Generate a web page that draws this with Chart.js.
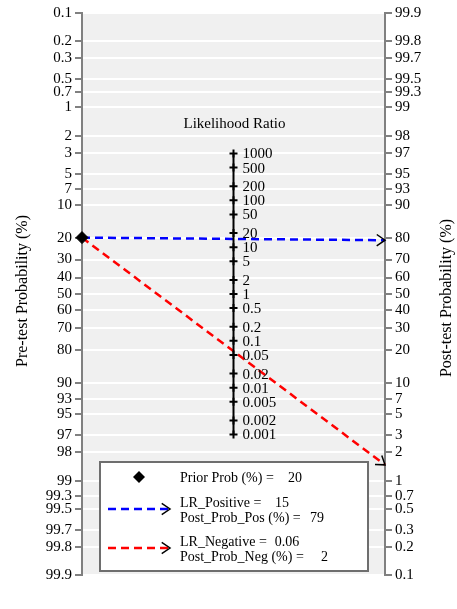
<!DOCTYPE html>
<html lang="en">
<head>
    <meta charset="UTF-8">
    <title>Fagan Nomogram</title>
    <style>
        body {
            margin: 0;
            background: #fff;
        }
        #wrap {
            width: 457px;
            height: 609px;
        }
    </style>
</head>
<body>
    <div id="wrap">
        <canvas id="chart" width="457" height="609"></canvas>
    </div>

    <script src="https://cdn.jsdelivr.net/npm/chart.js"></script>
    <script>
        // values
        const probTicks = [0.1, 0.2, 0.3, 0.5, 0.7, 1, 2, 3, 5, 7, 10, 20, 30, 40, 50, 60, 70, 80, 90, 93, 95, 97, 98, 99, 99.3, 99.5, 99.7, 99.8, 99.9];
        const lrTicks = [1000, 500, 200, 100, 50, 20, 10, 5, 2, 1, 0.5, 0.2, 0.1, 0.05, 0.02, 0.01, 0.005, 0.002, 0.001];
        const priorProb = 20;
        const lrValues = [15, 0.06];
        const lrNames = ['LR_Positive', 'LR_Negative'];
        const postNames = ['Post_Prob_Pos (%)', 'Post_Prob_Neg (%)'];
        const postShown = [79, 2];

        const FONT = "'Liberation Serif', 'Times New Roman', serif";
        const arrowColors = ['#0000ff', '#ff0000'];

        const logit = p => Math.log(p / (100 - p));
        const LIM = logit(99.9);

        // one dataset per LR line: prior on the left, post-test on the right
        const arrowSets = lrValues.map((lr, i) => ({
            label: lrNames[i],
            data: [
                { x: 0, y: -logit(priorProb) },
                { x: 1, y: logit(priorProb) + Math.log(lr) }
            ],
            borderColor: arrowColors[i],
            borderWidth: 2.5,
            borderDash: [8, 5],
            pointRadius: 0,
            showLine: true,
            fill: false,
            clip: false
        }));

        const bgPlugin = {
            id: 'bg',
            beforeDraw(chart) {
                const { ctx, chartArea: a } = chart;
                ctx.save();
                ctx.fillStyle = '#f0f0f0';
                ctx.fillRect(a.left, a.top, a.right - a.left, a.bottom - a.top);
                ctx.restore();
            }
        };

        function drawArrowHead(ctx, x1, y1, x2, y2) {
            const ang = Math.atan2(y2 - y1, x2 - x1);
            const len = 10;
            ctx.save();
            ctx.strokeStyle = '#000';
            ctx.lineWidth = 1.5;
            ctx.setLineDash([]);
            ctx.beginPath();
            ctx.moveTo(x2 - len * Math.cos(ang - 0.6), y2 - len * Math.sin(ang - 0.6));
            ctx.lineTo(x2, y2);
            ctx.lineTo(x2 - len * Math.cos(ang + 0.6), y2 - len * Math.sin(ang + 0.6));
            ctx.stroke();
            ctx.restore();
        }

        // label then value, value never closer than a small gap
        function labelValue(ctx, label, value, x, vx, y) {
            ctx.fillText(label, x, y);
            const end = x + ctx.measureText(label).width;
            ctx.fillText(String(value), Math.max(vx, end + 8), y);
        }

        const extrasPlugin = {
            id: 'extras',
            afterDatasetsDraw(chart) {
                const { ctx } = chart;
                // arrow heads on LR lines
                chart.data.datasets.forEach((ds, i) => {
                    if (!lrNames.includes(ds.label)) return;
                    const pts = chart.getDatasetMeta(i).data;
                    drawArrowHead(ctx, pts[0].x, pts[0].y, pts[1].x, pts[1].y);
                });
                // LR axis labels
                const xs = chart.scales.x, ys = chart.scales.y;
                ctx.save();
                ctx.fillStyle = '#000';
                ctx.font = '15px ' + FONT;
                ctx.textAlign = 'left';
                ctx.textBaseline = 'middle';
                lrTicks.forEach(lr => {
                    ctx.fillText(String(lr), xs.getPixelForValue(0.5) + 9, ys.getPixelForValue(Math.log(lr) / 2) + 1);
                });
                ctx.textAlign = 'center';
                ctx.fillText('Likelihood Ratio', xs.getPixelForValue(0.5) + 1, 124);
                ctx.restore();
            },
            afterDraw(chart) {
                const { ctx } = chart;
                ctx.save();
                ctx.fillStyle = '#000';
                ctx.font = '16px ' + FONT;
                ctx.textAlign = 'center';
                ctx.textBaseline = 'middle';
                ctx.save();
                ctx.translate(23, 291);
                ctx.rotate(-Math.PI / 2);
                ctx.fillText('Pre-test Probability (%)', 0, 0);
                ctx.restore();
                ctx.save();
                ctx.translate(447, 298);
                ctx.rotate(-Math.PI / 2);
                ctx.fillText('Post-test Probability (%)', 0, 0);
                ctx.restore();

                // legend box
                ctx.fillStyle = '#fff';
                ctx.fillRect(100, 462, 268, 109);
                ctx.strokeStyle = '#6e6e6e';
                ctx.lineWidth = 2;
                ctx.strokeRect(100, 462, 268, 109);

                ctx.fillStyle = '#000';
                ctx.beginPath();
                ctx.moveTo(139, 471);
                ctx.lineTo(145, 477);
                ctx.lineTo(139, 483);
                ctx.lineTo(133, 477);
                ctx.closePath();
                ctx.fill();

                ctx.font = '14px ' + FONT;
                ctx.textAlign = 'left';
                labelValue(ctx, 'Prior Prob (%) =', priorProb, 180, 288, 478);

                const rows = [503, 542];
                const valX = [[275, 310], [273, 321]];
                lrValues.forEach((lr, i) => {
                    const y = rows[i];
                    ctx.fillStyle = '#000';
                    labelValue(ctx, lrNames[i] + ' =', lr, 180, valX[i][0], y);
                    labelValue(ctx, postNames[i] + ' =', postShown[i], 180, valX[i][1], y + 15);
                    const ly = y + 6;
                    ctx.save();
                    ctx.strokeStyle = arrowColors[i];
                    ctx.lineWidth = 2.5;
                    ctx.setLineDash([8, 5]);
                    ctx.beginPath();
                    ctx.moveTo(108, ly);
                    ctx.lineTo(170, ly);
                    ctx.stroke();
                    ctx.restore();
                    drawArrowHead(ctx, 108, ly, 170, ly);
                });
                ctx.restore();
            }
        };

        const axisGrid = onArea => ({
            color: '#ffffff',
            lineWidth: 2,
            drawOnChartArea: onArea,
            tickColor: '#808080',
            tickLength: 7,
            tickWidth: 2
        });

        const ctx = document.getElementById('chart').getContext('2d');
        const chart = new Chart(ctx, {
            type: 'scatter',
            data: {
                datasets: [
                    {
                        label: 'LR axis',
                        data: [
                            { x: 0.5, y: Math.log(lrTicks[lrTicks.length - 1]) / 2 },
                            { x: 0.5, y: Math.log(lrTicks[0]) / 2 }
                        ],
                        showLine: true,
                        borderColor: '#000',
                        borderWidth: 2,
                        pointRadius: 0
                    },
                    {
                        label: 'LR ticks',
                        data: lrTicks.map(lr => ({ x: 0.5, y: Math.log(lr) / 2 })),
                        pointStyle: 'cross',
                        pointRadius: 4,
                        borderColor: '#000',
                        borderWidth: 2
                    },
                    {
                        label: 'Prior',
                        data: [{ x: 0, y: -logit(priorProb) }],
                        pointStyle: 'rectRot',
                        pointRadius: 6,
                        backgroundColor: '#000',
                        borderColor: '#000',
                        clip: false
                    },
                    ...arrowSets
                ]
            },
            options: {
                responsive: false,
                animation: false,
                layout: { padding: { top: 13, bottom: 34, left: 0, right: 0 } },
                plugins: {
                    legend: { display: false },
                    tooltip: { enabled: false }
                },
                scales: {
                    x: { type: 'linear', min: 0, max: 1, display: false },
                    y: {
                        type: 'linear',
                        position: 'left',
                        min: -LIM,
                        max: LIM,
                        afterBuildTicks: s => { s.ticks = probTicks.map(p => ({ value: -logit(p) })); },
                        afterFit: s => { s.width = 82; },
                        ticks: {
                            autoSkip: false,
                            padding: 3,
                            color: '#000',
                            font: { family: FONT, size: 15 },
                            callback: (v, i) => String(probTicks[i])
                        },
                        grid: axisGrid(true),
                        border: { color: '#808080', width: 2 }
                    },
                    y2: {
                        type: 'linear',
                        position: 'right',
                        min: -LIM,
                        max: LIM,
                        afterBuildTicks: s => { s.ticks = probTicks.map(p => ({ value: logit(p) })); },
                        afterFit: s => { s.width = 72; },
                        ticks: {
                            autoSkip: false,
                            padding: 3,
                            color: '#000',
                            font: { family: FONT, size: 15 },
                            callback: (v, i) => String(probTicks[i])
                        },
                        grid: axisGrid(false),
                        border: { color: '#808080', width: 2 }
                    }
                }
            },
            plugins: [bgPlugin, extrasPlugin]
        });
    </script>
</body>
</html>
